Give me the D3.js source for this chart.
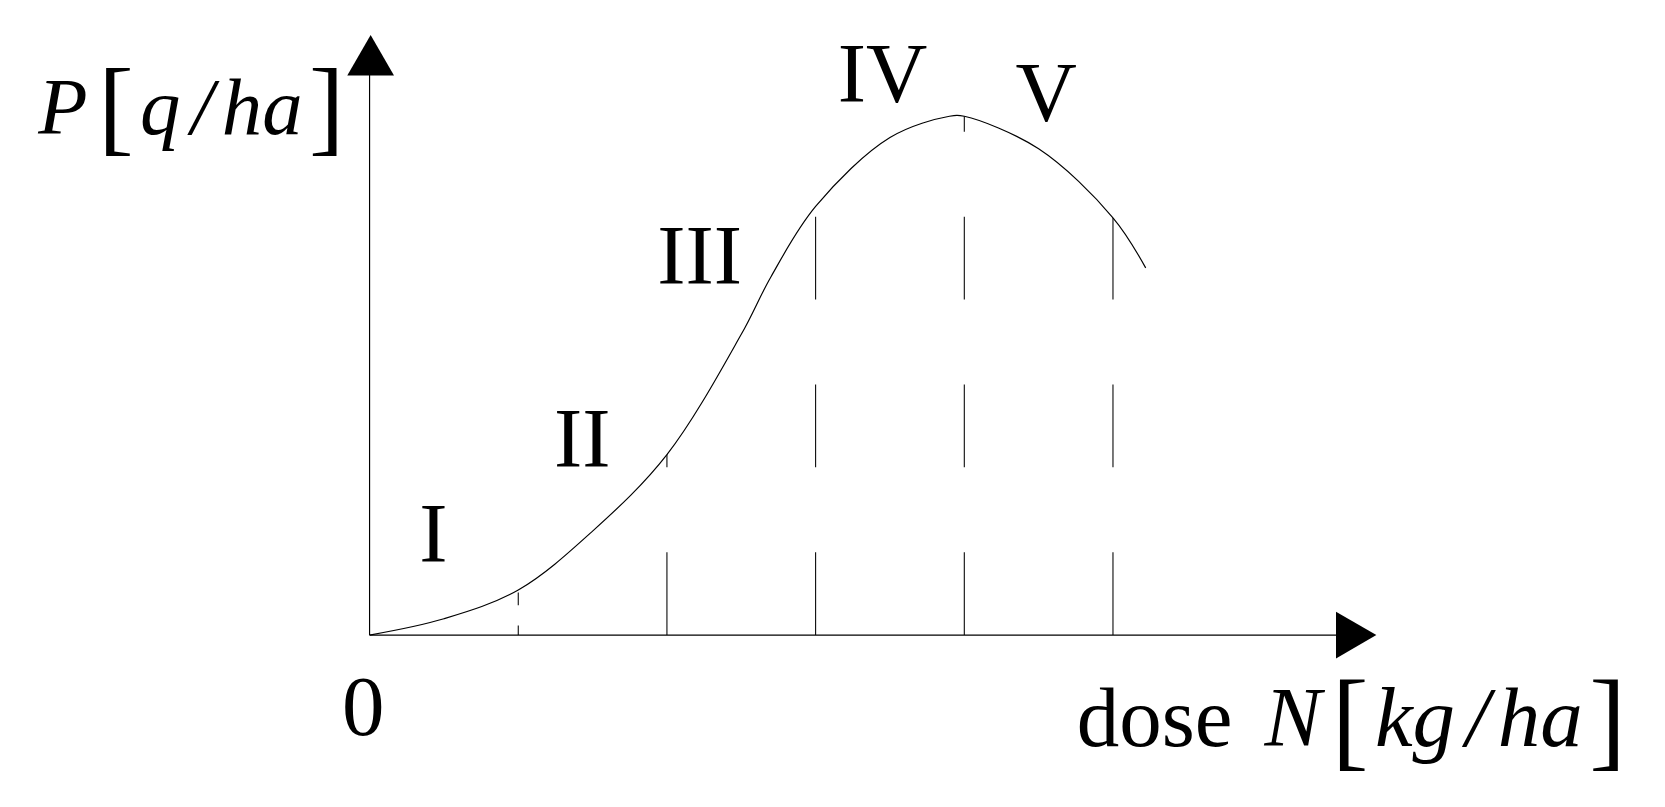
<!DOCTYPE html>
<html><head><meta charset="utf-8">
<script src="https://cdn.jsdelivr.net/npm/d3@7"></script>
<style>body{margin:0;background:#fff}text{font-family:"Liberation Serif","Times New Roman",serif;fill:#000}</style>
</head><body><svg id="c" width="1665" height="807"></svg>
<script>
// curve in data units (dose units, yield units)
const curveX = [0, 0.5, 1, 1.5, 2, 2.5, 2.7, 3, 3.5, 3.9, 4, 4.5, 5, 5.22];
const curveY = [0, 0.13, 0.36, 0.83, 1.44, 2.4, 2.86, 3.42, 3.97, 4.14, 4.14, 3.88, 3.33, 2.93];
const guideX = [2, 3, 4, 5];
const stages = ["I", "II", "III", "IV", "V"];
const stageX = [0.43, 1.43, 2.22, 3.45, 4.55];
const stageY = [0.58, 1.34, 2.8, 4.25, 4.1];

const root = d3.select("#c").append("g").attr("transform", "scale(1.062)");
const x = d3.scaleLinear().domain([0, 1]).range([348, 488]);
const y = d3.scaleLinear().domain([0, 1]).range([598, 480]);

root.append("line").attr("x1", x(0)).attr("y1", y(0)).attr("x2", 1262).attr("y2", y(0)).attr("stroke", "#000").attr("stroke-width", 1.1);
root.append("path").attr("d", `M1258,576 L1296,598 L1258,620 Z`).attr("fill", "#000");
root.append("line").attr("x1", x(0)).attr("y1", y(0)).attr("x2", x(0)).attr("y2", 68).attr("stroke", "#000").attr("stroke-width", 1.1);
root.append("path").attr("d", `M327,71 L349,33 L371,71 Z`).attr("fill", "#000");

const pts = curveX.map((d, i) => [x(d), y(curveY[i])]);
const line = d3.line().curve(d3.curveCatmullRom);

root.append("clipPath").attr("id", "below").append("path")
  .attr("d", line(pts) + `L${x(curveX[curveX.length-1])},${y(0)} L${x(0)},${y(0)} Z`);

const g = root.append("g").attr("clip-path", "url(#below)");
guideX.forEach(v => {
  g.append("line").attr("x1", x(v)).attr("x2", x(v)).attr("y1", y(0)).attr("y2", 30)
    .attr("stroke", "#000").attr("stroke-width", 1).attr("stroke-dasharray", "78 80");
});
g.append("line").attr("x1", x(1)).attr("x2", x(1)).attr("y1", y(0)).attr("y2", y(0) - 9).attr("stroke", "#000");
g.append("line").attr("x1", x(1)).attr("x2", x(1)).attr("y1", y(0) - 28).attr("y2", y(0) - 40).attr("stroke", "#000");

root.append("path").attr("d", line(pts)).attr("fill", "none").attr("stroke", "#000").attr("stroke-width", 1.1);

stages.forEach((s, i) => {
  root.append("text").attr("x", x(stageX[i])).attr("y", y(stageY[i])).attr("text-anchor", "middle")
    .attr("font-size", 80).text(s);
});

root.append("text").attr("x", 342).attr("y", 692).attr("text-anchor", "middle").attr("font-size", 80).text("0");

const yl = root.append("text").attr("x", 36).attr("y", 126).attr("font-size", 76);
yl.append("tspan").attr("font-style", "italic").text("P");
yl.append("tspan").attr("font-size", 100).attr("dx", 10).attr("dy", 8).text("[");
yl.append("tspan").attr("font-style", "italic").attr("dx", 6).attr("dy", -8).text("q");
yl.append("tspan").attr("font-style", "italic").attr("dx", 10).text("/");
yl.append("tspan").attr("font-style", "italic").attr("dx", 8).text("ha");
yl.append("tspan").attr("font-size", 100).attr("dx", 6).attr("dy", 8).text("]");

const xl = root.append("text").attr("x", 1014).attr("y", 702).attr("font-size", 80);
xl.append("tspan").text("dose");
xl.append("tspan").attr("font-style", "italic").attr("dx", 30).text("N");
xl.append("tspan").attr("font-size", 104).attr("dx", 10).attr("dy", 10).text("[");
xl.append("tspan").attr("font-style", "italic").attr("dx", 6).attr("dy", -10).text("kg");
xl.append("tspan").attr("font-style", "italic").attr("dx", 10).text("/");
xl.append("tspan").attr("font-style", "italic").attr("dx", 8).text("ha");
xl.append("tspan").attr("font-size", 104).attr("dx", 6).attr("dy", 10).text("]");
</script></body></html>
